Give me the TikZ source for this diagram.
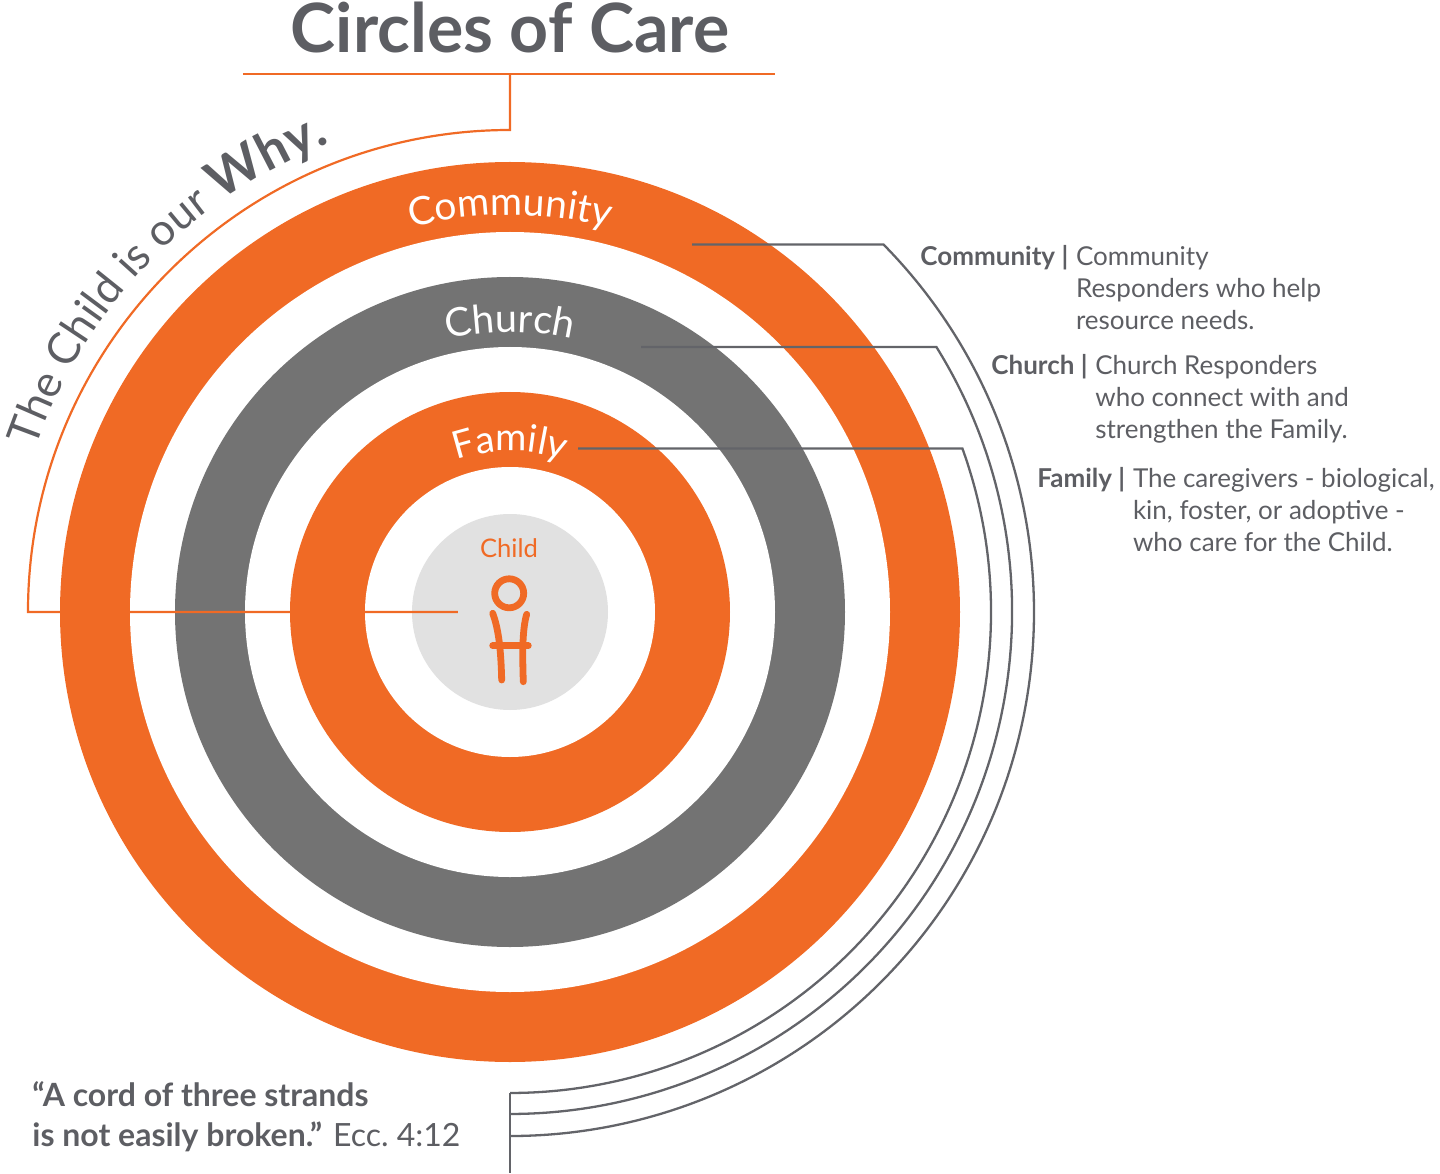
\documentclass[tikz,border=0pt]{standalone}
\usepackage{fontspec}
\setmainfont{Lato}
\usetikzlibrary{decorations.text,positioning}
\definecolor{careorange}{HTML}{F06A25}
\definecolor{ringgray}{HTML}{737373}
\definecolor{childgray}{HTML}{E1E1E1}
\definecolor{ink}{HTML}{5D5E63}
\definecolor{linkgray}{HTML}{636469}
\def\ringlabel[#1](#2)#3{\path[decorate,decoration={text along path,text align=center,text={|#1|#3}}] (180:#2) arc[start angle=180,end angle=0,radius=#2];}

\begin{document}
\begin{tikzpicture}[x=0.5pt,y=0.5pt,
		guide/.style={draw=careorange,line width=1.1pt},
		link/.style={draw=linkgray,line width=1.15pt},
		keytext/.style={anchor=base west,inner sep=0pt,text=ink,font=\fontsize{13}{16}\selectfont\bfseries},
		bodytext/.style={anchor=base west,inner sep=0pt,text=ink,font=\fontsize{13}{16}\selectfont},
		kid/.style={draw=careorange,line width=3.4pt,line cap=round,line join=round}]
		%%%%% START %%%%%
		\useasboundingbox (-510,-561) rectangle (930,612);
		
		% title
		\node[anchor=base,text=ink,font=\fontsize{34}{34}\selectfont\bfseries] (title) at (0,559) {Circles of Care};
		\coordinate (rule-l) at (-267,538);
		\coordinate (rule-r) at (265,538);
		\coordinate (rule-m) at (0,538);
		\draw[guide,line width=1.4pt] (rule-l) -- (rule-r);
		
		% rings
		\fill[careorange] (0,0) circle[radius=450];
		\fill[white] (0,0) circle[radius=380];
		\fill[ringgray] (0,0) circle[radius=335];
		\fill[white] (0,0) circle[radius=265];
		\fill[careorange] (0,0) circle[radius=220];
		\fill[white] (0,0) circle[radius=145];
		\fill[childgray] (0,0) circle[radius=98];
		
		% guide from the title down to the child
		\coordinate (child-w) at (-52,0);
		\draw[guide] (rule-m) -- (0,482) arc[start angle=90,end angle=180,radius=482] -- (child-w);
		\path[decorate,decoration={text along path,text align=center,
			text={|\color{ink}\fontsize{22}{22}\selectfont|The Child is our |\color{ink}\fontsize{26}{26}\selectfont\bfseries|Why.}}]
			(178:502) arc[start angle=178,end angle=94,radius=502];
		
		% ring labels
		\ringlabel[\color{white}\fontsize{19.5}{19.5}\selectfont](397){Community}
		\ringlabel[\color{white}\fontsize{19.8}{19.8}\selectfont](280){Church}
		\ringlabel[\color{white}\fontsize{19}{19}\selectfont](161){Family}
		
		% child
		\node[anchor=base,text=careorange,font=\fontsize{12.8}{12.8}\selectfont] (child) at (-1,55) {Child};
		\draw[kid] (-0.8,18.7) circle[radius=14.5];
		\draw[kid] (-17.3,-1.3) .. controls (-11,-18) and (-9,-40) .. (-8.3,-68);
		\draw[kid] (16.7,-2.3) .. controls (12,-18) and (12.5,-45) .. (13.3,-69.7);
		\draw[kid] (-17.3,-33.7) -- (18.3,-33.7);
		
		% links from the rings to the foot
		\coordinate (comm-in) at (182,367.5);
		\coordinate (comm-bend) at (373.5,367.5);
		\coordinate (church-in) at (131,265);
		\coordinate (church-bend) at (426.4,265);
		\coordinate (fam-in) at (68,163.5);
		\coordinate (fam-bend) at (452.4,163.5);
		\coordinate (fam-foot) at (0,-481);
		\coordinate (foot) at (0,-561);
		\draw[link] (comm-in) -- (comm-bend) arc[start angle=44.54,end angle=-90,radius=524];
		\draw[link] (church-in) -- (church-bend) arc[start angle=31.86,end angle=-90,radius=502];
		\draw[link] (fam-in) -- (fam-bend) arc[start angle=19.87,end angle=-90,radius=481];
		\draw[link] (fam-foot) -- (foot);
		
		% keys
		\node[keytext] (comm-key) at (410,346) {Community |};
		\node[bodytext] (comm-body) at ([xshift=3.5pt]comm-key.base east) {\begin{tabular}[t]{@{}l@{}}Community\\Responders who help\\resource needs.\end{tabular}};
		\node[keytext] (church-key) at (481,237) {Church |};
		\node[bodytext] (church-body) at ([xshift=3.5pt]church-key.base east) {\begin{tabular}[t]{@{}l@{}}Church Responders\\who connect with and\\strengthen the Family.\end{tabular}};
		\node[keytext] (fam-key) at (527,125) {Family |};
		\node[bodytext] (fam-body) at ([xshift=3.5pt]fam-key.base east) {\begin{tabular}[t]{@{}l@{}}The caregivers - biological,\\kin, foster, or adoptive -\\who care for the Child.\end{tabular}};
		
		% quote
		\node[anchor=base west,inner sep=0pt,text=ink,font=\fontsize{16}{20}\selectfont] (quote) at (-478,-494.7) {\begin{tabular}[t]{@{}l@{}}\textbf{“A cord of three strands}\\\textbf{is not easily broken.”} Ecc.~4:12\end{tabular}};
		
		%%%%% END %%%%%
	\end{tikzpicture}
\end{document}
